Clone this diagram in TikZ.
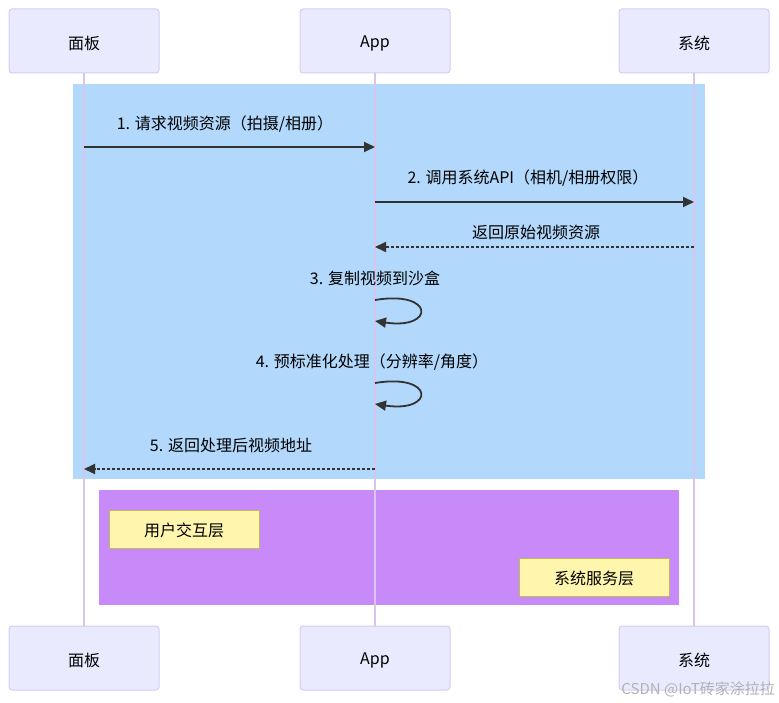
\documentclass[tikz,border=0pt]{standalone}
\usepackage{fontspec}
\setmainfont{Noto Sans CJK SC}
\usetikzlibrary{arrows.meta}
\definecolor{actfill}{RGB}{234,234,255}
\definecolor{actdraw}{RGB}{214,204,242}
\definecolor{lifec}{RGB}{216,196,236}
\definecolor{bluebg}{RGB}{178,216,252}
\definecolor{purplebg}{RGB}{199,138,248}
\definecolor{notefill}{RGB}{255,245,173}
\definecolor{notedraw}{RGB}{190,186,90}
\definecolor{msgc}{RGB}{51,51,51}
\tikzset{
  actor/.style={draw=actdraw, fill=actfill, line width=1pt, rounded corners=3pt,
    minimum width=150pt, minimum height=64pt, inner sep=0pt, text=black},
  actortxt/.style={font=\fontsize{16}{19}\selectfont, text=black, inner sep=0pt},
  notebox/.style={draw=notedraw, fill=notefill, line width=1pt,
    minimum width=150pt, minimum height=38pt, inner sep=0pt, text=black},
  lifeline/.style={draw=lifec, line width=1.2pt},
  msg/.style={draw=msgc, line width=1.8pt, -{Triangle[length=11pt,width=10pt]}},
  reply/.style={msg, dash pattern=on 3pt off 2pt},
  lbl/.style={font=\fontsize{16}{19}\selectfont, text=black, inner sep=0pt},
}
\begin{document}
\begin{tikzpicture}[x=1pt,y=-1pt]
\useasboundingbox (0,0) rectangle (779,703);
% backgrounds
\fill[bluebg] (73,84) rectangle (705,479);
\fill[purplebg] (99,490) rectangle (679,605);
% actors
\node[actor] (pT) at (84,41) {};
\node[actor] (aT) at (375,41) {};
\node[actor] (sT) at (694,41) {};
\node[actor] (pB) at (84,658) {};
\node[actor] (aB) at (375,658) {};
\node[actor] (sB) at (694,658) {};
\node[actortxt] (pTt) at (84,43) {面板};
\node[actortxt] (aTt) at (375,43) {App};
\node[actortxt] (sTt) at (694,43) {系统};
\node[actortxt] (pBt) at (84,660) {面板};
\node[actortxt] (aBt) at (375,660) {App};
\node[actortxt] (sBt) at (694,660) {系统};
% lifelines
\draw[lifeline] (pT.south) -- (pB.north);
\draw[lifeline] (aT.south) -- (aB.north);
\draw[lifeline] (sT.south) -- (sB.north);
% notes
\node[notebox] (n1) at (184,529) {};
\node[notebox] (n2) at (594,577) {};
\node[lbl] (n1t) at (184,530) {用户交互层};
\node[lbl] (n2t) at (594,578) {系统服务层};
% message anchor points
\coordinate (p1) at (84,147);  \coordinate (a1) at (375,147);
\coordinate (a2) at (375,202); \coordinate (s2) at (694,202);
\coordinate (s3) at (694,247); \coordinate (a3) at (375,247);
\coordinate (a4s) at (375,300); \coordinate (a4e) at (375,321);
\coordinate (a5s) at (375,383); \coordinate (a5e) at (375,404);
\coordinate (a6) at (375,469); \coordinate (p6) at (84,469);
% messages
\node[lbl] (l1) at (225,124) {1. 请求视频资源（拍摄/相册）};
\draw[msg] (p1) -- (a1);
\node[lbl] (l2) at (528,178) {2. 调用系统API（相机/相册权限）};
\draw[msg] (a2) -- (s2);
\node[lbl] (l3) at (536,232) {返回原始视频资源};
\draw[reply] (s3) -- (a3);
\node[lbl] (l4) at (375,278) {3. 复制视频到沙盒};
\draw[msg] (a4s) .. controls (435,290) and (435,330) .. (a4e);
\node[lbl] (l5) at (372,362) {4. 预标准化处理（分辨率/角度）};
\draw[msg] (a5s) .. controls (435,373) and (435,413) .. (a5e);
\node[lbl] (l6) at (231,445) {5. 返回处理后视频地址};
\draw[reply] (a6) -- (p6);
% watermark
\node[font=\fontsize{15}{18}\selectfont, text=black!30, anchor=east, inner sep=0pt] (wm) at (775,689) {CSDN @IoT砖家涂拉拉};
\end{tikzpicture}
\end{document}
